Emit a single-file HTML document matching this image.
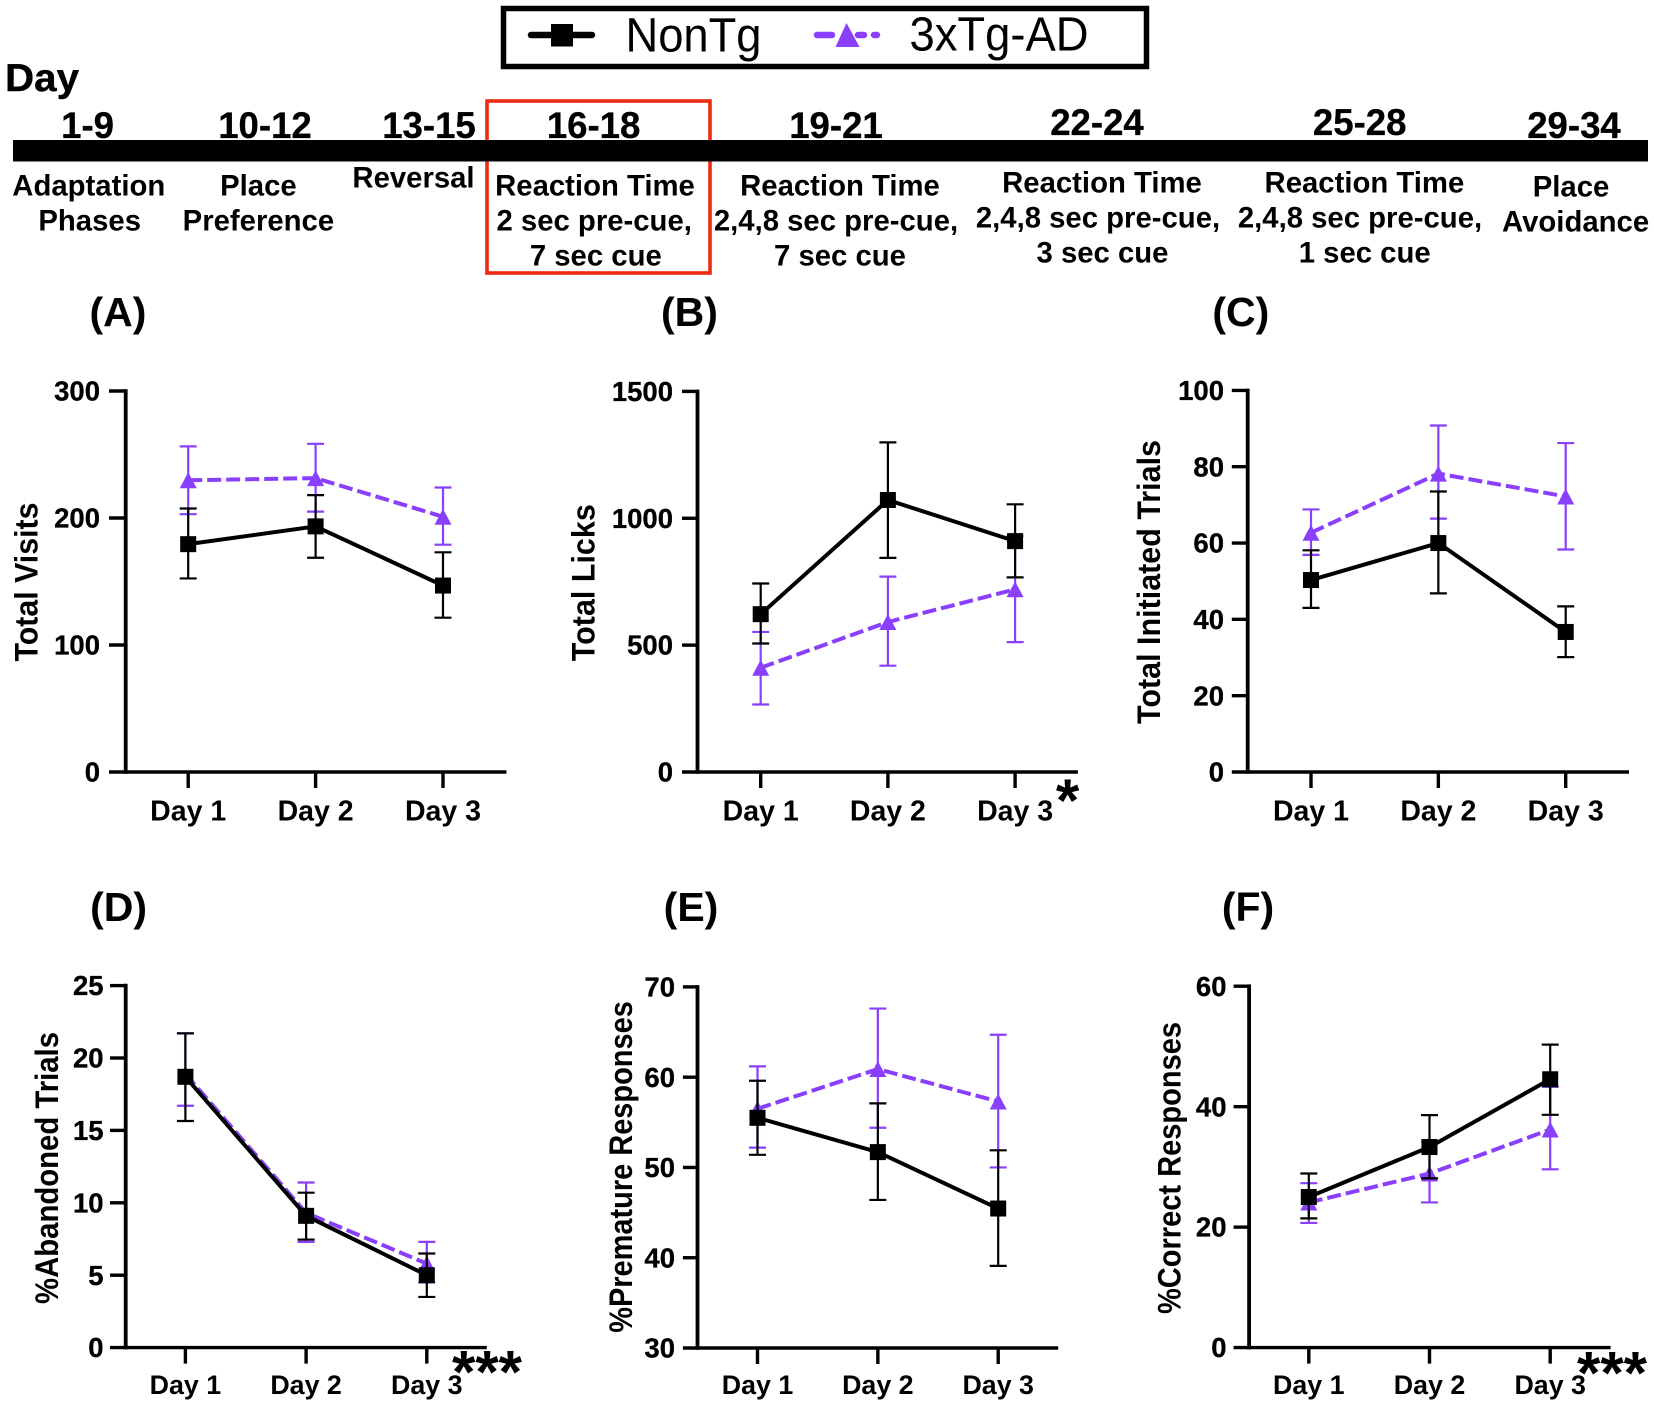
<!DOCTYPE html>
<html lang="en">
<head>
<meta charset="utf-8">
<title>Reaction time task results</title>
<style>
html,body{margin:0;padding:0;background:#fff;}
svg{display:block;font-family:"Liberation Sans",Arial,sans-serif;}
</style>
</head>
<body>
<svg id="figure" xmlns="http://www.w3.org/2000/svg" width="1654" height="1406" viewBox="0 0 1654 1406">
  <rect x="0" y="0" width="1654" height="1406" fill="#fff"/>

  <g>
    <rect x="503.5" y="8.5" width="643" height="58" fill="#fff" stroke="#000" stroke-width="5.5"/>
    <g>
      <line x1="531" y1="35" x2="592" y2="35" stroke="#000" stroke-width="6.5" stroke-linecap="round"/>
      <rect x="551" y="24" width="22" height="22.5" fill="#000"/>
      <text x="625.5" y="51.5" font-size="48" textLength="136" lengthAdjust="spacingAndGlyphs" fill="#000">NonTg</text>
    </g>
    <g>
      <line x1="817" y1="35" x2="832" y2="35" stroke="#8a3ffc" stroke-width="6.5" stroke-linecap="round"/>
      <line x1="858" y1="35" x2="864" y2="35" stroke="#8a3ffc" stroke-width="6.5" stroke-linecap="round"/>
      <line x1="874" y1="35" x2="877" y2="35" stroke="#8a3ffc" stroke-width="6.5" stroke-linecap="round"/>
      <polygon points="846.5,23 835.5,47 859.6,47" fill="#8a3ffc"/>
      <text x="909.5" y="50.5" font-size="48" textLength="179" lengthAdjust="spacingAndGlyphs" fill="#000">3xTg-AD</text>
    </g>
  </g>

  <g font-weight="700" fill="#000" text-anchor="middle">
    <text x="5" y="91" font-size="39" text-anchor="start" textLength="74" lengthAdjust="spacingAndGlyphs" stroke="#000" stroke-width="0.4">Day</text>
    <rect x="487" y="101" width="223" height="172" fill="none" stroke="#ee2a12" stroke-width="3.6"/>
    <rect x="13" y="140" width="1635" height="21.5" fill="#000"/>

    <g font-size="36.6" stroke="#000" stroke-width="0.3">
      <text x="87.6" y="138">1-9</text>
      <text x="265" y="138">10-12</text>
      <text x="429" y="138">13-15</text>
      <text x="593.6" y="138">16-18</text>
      <text x="836" y="138">19-21</text>
      <text x="1097" y="135">22-24</text>
      <text x="1359.7" y="135">25-28</text>
      <text x="1574" y="138">29-34</text>
    </g>

    <g font-size="29.3">
      <text x="88.8" y="195.7">Adaptation</text>
      <text x="89.7" y="230.7">Phases</text>
      <text x="258.4" y="195.7">Place</text>
      <text x="258.4" y="230.7">Preference</text>
      <text x="413.5" y="187.3">Reversal</text>

      <text x="595" y="195.7">Reaction Time</text>
      <text x="594.2" y="230.7">2 sec pre-cue,</text>
      <text x="595.8" y="265.7">7 sec cue</text>

      <text x="840" y="195.7">Reaction Time</text>
      <text x="836" y="230.7">2,4,8 sec pre-cue,</text>
      <text x="840" y="265.7">7 sec cue</text>

      <text x="1102" y="192.3">Reaction Time</text>
      <text x="1098" y="227.3">2,4,8 sec pre-cue,</text>
      <text x="1102.5" y="262.3">3 sec cue</text>

      <text x="1364.4" y="192.3">Reaction Time</text>
      <text x="1360" y="227.3">2,4,8 sec pre-cue,</text>
      <text x="1364.7" y="262.3">1 sec cue</text>

      <text x="1571" y="196.7">Place</text>
      <text x="1575.6" y="231.7">Avoidance</text>
    </g>
  </g>

  <g id="charts"></g>
</svg>

<script>
const categories = ['Day 1', 'Day 2', 'Day 3'];

const aTickLabels = ['0', '100', '200', '300'];
const aNonTgMean = [179.4, 193.4, 146.8];
const aNonTgUpper = [207.5, 218, 173];
const aNonTgLower = [152.4, 168.7, 121.5];
const a3xMean = [229.7, 231.4, 201];
const a3xUpper = [256.4, 258.4, 224];
const a3xLower = [203, 205, 179];

const bTickLabels = ['0', '500', '1000', '1500'];
const bNonTgMean = [622, 1072, 910];
const bNonTgUpper = [743, 1299, 1055];
const bNonTgLower = [506.5, 844, 767];
const b3xMean = [411, 591, 720];
const b3xUpper = [552, 770, 930];
const b3xLower = [266, 419, 512];

const cTickLabels = ['0', '20', '40', '60', '80', '100'];
const cNonTgMean = [50.3, 60, 36.7];
const cNonTgUpper = [58.1, 73.5, 43.4];
const cNonTgLower = [43, 46.8, 30.1];
const c3xMean = [62.7, 78.2, 72.2];
const c3xUpper = [68.8, 90.8, 86.2];
const c3xLower = [56.9, 66.4, 58.3];

const dTickLabels = ['0', '5', '10', '15', '20', '25'];
const dNonTgMean = [18.7, 9.1, 5.0];
const dNonTgUpper = [21.7, 10.7, 6.5];
const dNonTgLower = [15.65, 7.46, 3.5];
const d3xMean = [18.9, 9.3, 5.8];
const d3xUpper = [21.7, 11.4, 7.3];
const d3xLower = [16.7, 7.3, 4.5];

const eTickLabels = ['30', '40', '50', '60', '70'];
const eNonTgMean = [55.5, 51.7, 45.45];
const eNonTgUpper = [59.6, 57.1, 51.9];
const eNonTgLower = [51.4, 46.4, 39.1];
const e3xMean = [56.5, 60.9, 57.3];
const e3xUpper = [61.2, 67.6, 64.7];
const e3xLower = [52.2, 54.4, 50];

const fTickLabels = ['0', '20', '40', '60'];
const fNonTgMean = [25, 33.3, 44.55];
const fNonTgUpper = [28.9, 38.6, 50.3];
const fNonTgLower = [21.45, 28.1, 38.65];
const f3xMean = [24.1, 28.9, 36.2];
const f3xUpper = [27.3, 34.2, 43.3];
const f3xLower = [20.7, 24.1, 29.6];

const PURPLE = '#8a3ffc';
const SVG_NS = 'http://www.w3.org/2000/svg';

const panels = [
  { key: 'a', letter: '(A)', title: 'Total Visits', ticks: aTickLabels,
    non: [aNonTgMean, aNonTgUpper, aNonTgLower], tg: [a3xMean, a3xUpper, a3xLower],
    axisX: 125.7, top: 391, bottom: 772, tickLeft: 109, right: 506.4, firstX: 188.2, stepX: 127.4,
    tickLabelEnd: 100, catSize: 28.5, catBaseline: 820.3,
    letterX: 118, letterY: 326, titleX: 37.5, titleY: 582, titleLen: 159, stars: null },
  { key: 'b', letter: '(B)', title: 'Total Licks', ticks: bTickLabels,
    non: [bNonTgMean, bNonTgUpper, bNonTgLower], tg: [b3xMean, b3xUpper, b3xLower],
    axisX: 697.5, top: 391.4, bottom: 772, tickLeft: 682, right: 1077.9, firstX: 760.7, stepX: 127.2,
    tickLabelEnd: 673, catSize: 28.5, catBaseline: 820.3,
    letterX: 689.5, letterY: 326, titleX: 594.6, titleY: 582.7, titleLen: 157,
    stars: { text: '*', x: 1067.5, y: 821 } },
  { key: 'c', letter: '(C)', title: 'Total Initiated Trials', ticks: cTickLabels,
    non: [cNonTgMean, cNonTgUpper, cNonTgLower], tg: [c3xMean, c3xUpper, c3xLower],
    axisX: 1247.7, top: 390.4, bottom: 772, tickLeft: 1231.8, right: 1629, firstX: 1311, stepX: 127.35,
    tickLabelEnd: 1224, catSize: 28.5, catBaseline: 820.3,
    letterX: 1240.8, letterY: 326, titleX: 1160, titleY: 582, titleLen: 284, stars: null },
  { key: 'd', letter: '(D)', title: '%Abandoned Trials', ticks: dTickLabels,
    non: [dNonTgMean, dNonTgUpper, dNonTgLower], tg: [d3xMean, d3xUpper, d3xLower],
    axisX: 125.7, top: 985.6, bottom: 1347.6, tickLeft: 110, right: 486.8, firstX: 185.4, stepX: 120.7,
    tickLabelEnd: 103.6, catSize: 26.8, catBaseline: 1394,
    letterX: 118.6, letterY: 921, titleX: 57.9, titleY: 1168, titleLen: 272,
    stars: { text: '***', x: 487, y: 1392.5 } },
  { key: 'e', letter: '(E)', title: '%Premature Responses', ticks: eTickLabels,
    non: [eNonTgMean, eNonTgUpper, eNonTgLower], tg: [e3xMean, e3xUpper, e3xLower],
    axisX: 697.5, top: 986.9, bottom: 1348, tickLeft: 682.9, right: 1058.2, firstX: 757.5, stepX: 120.35,
    tickLabelEnd: 675, catSize: 26.8, catBaseline: 1394,
    letterX: 691, letterY: 921, titleX: 632, titleY: 1167, titleLen: 331.6, stars: null },
  { key: 'f', letter: '(F)', title: '%Correct Responses', ticks: fTickLabels,
    non: [fNonTgMean, fNonTgUpper, fNonTgLower], tg: [f3xMean, f3xUpper, f3xLower],
    axisX: 1249.1, top: 986.2, bottom: 1347.6, tickLeft: 1233.6, right: 1610.6, firstX: 1308.8, stepX: 120.7,
    tickLabelEnd: 1226.5, catSize: 26.8, catBaseline: 1394,
    letterX: 1248, letterY: 921, titleX: 1180.6, titleY: 1168, titleLen: 292,
    stars: { text: '***', x: 1612, y: 1393.5 } }
];

function mk(tag, parent, attrs, text) {
  const el = document.createElementNS(SVG_NS, tag);
  for (const k in attrs) el.setAttribute(k, attrs[k]);
  if (text !== undefined) el.textContent = text;
  parent.appendChild(el);
  return el;
}

function drawSeries(group, p, series, seriesName, color, xScale, yScale) {
  const mean = series[0], upper = series[1], lower = series[2];
  const g = mk('g', group, {});
  
  

  mean.forEach(function (v, i) {
    const x = xScale(i);
    const stem = mk('line', g, { x1: x, x2: x, y1: yScale(upper[i]), y2: yScale(lower[i]), stroke: color, 'stroke-width': 2.2 });
    
    
    const capU = mk('line', g, { x1: x - 8.5, x2: x + 8.5, y1: yScale(upper[i]), y2: yScale(upper[i]), stroke: color, 'stroke-width': 2.2 });
    
    
    const capL = mk('line', g, { x1: x - 8.5, x2: x + 8.5, y1: yScale(lower[i]), y2: yScale(lower[i]), stroke: color, 'stroke-width': 2.2 });
    
    
  });

  const pts = mean.map(function (v, i) { return xScale(i) + ',' + yScale(v); }).join(' ');
  const lineAttrs = { points: pts, fill: 'none', stroke: color, 'stroke-width': 4 };
  if (seriesName !== 'nontg') lineAttrs['stroke-dasharray'] = '14 5';
  const line = mk('polyline', g, lineAttrs);
  
  

  mean.forEach(function (v, i) {
    const x = xScale(i), y = yScale(v);
    let marker;
    if (seriesName === 'nontg') {
      marker = mk('rect', g, { x: x - 8, y: y - 8, width: 16, height: 16, fill: color });
    } else {
      marker = mk('polygon', g, { points: x + ',' + (y - 8) + ' ' + (x - 8.5) + ',' + (y + 8) + ' ' + (x + 8.5) + ',' + (y + 8), fill: color });
    }
    
    
  });
}

function drawPanel(p) {
  const root = document.getElementById('charts');
  const g = mk('g', root, {});
  
  

  const tickValues = p.ticks.map(Number);
  const yMin = tickValues[0];
  const yMax = tickValues[tickValues.length - 1];
  const yScale = function (v) { return p.bottom - (v - yMin) / (yMax - yMin) * (p.bottom - p.top); };
  const xScale = function (i) { return p.firstX + i * p.stepX; };

  const letter = mk('text', g, { x: p.letterX, y: p.letterY, 'font-size': 41, 'font-weight': 700, 'text-anchor': 'middle', fill: '#000' }, p.letter);
  
  

  const title = mk('text', g, {
    transform: 'translate(' + p.titleX + ',' + p.titleY + ') rotate(-90)',
    'font-size': 32, 'font-weight': 700, 'text-anchor': 'middle', fill: '#000',
    textLength: p.titleLen, lengthAdjust: 'spacingAndGlyphs'
  }, p.title);
  
  

  const yAxis = mk('line', g, { x1: p.axisX, x2: p.axisX, y1: p.top - 1.8, y2: p.bottom + 1.8, stroke: '#000', 'stroke-width': 3.8 });
  
  

  const xAxis = mk('line', g, { x1: p.tickLeft, x2: p.right, y1: p.bottom, y2: p.bottom, stroke: '#000', 'stroke-width': 3.4 });
  
  

  p.ticks.forEach(function (label, i) {
    const y = yScale(tickValues[i]);
    if (i > 0) {
      const t = mk('line', g, { x1: p.tickLeft, x2: p.axisX, y1: y, y2: y, stroke: '#000', 'stroke-width': 3.4 });
      
      
    }
    const tl = mk('text', g, { x: p.tickLabelEnd, y: y + 9.6, 'font-size': 27.5, 'font-weight': 700, 'text-anchor': 'end', fill: '#000', stroke: '#000', 'stroke-width': 0.3 }, label);
    
    
  });

  categories.forEach(function (cat, i) {
    const x = xScale(i);
    const t = mk('line', g, { x1: x, x2: x, y1: p.bottom, y2: p.bottom + 16, stroke: '#000', 'stroke-width': 3.4 });
    
    
    const tl = mk('text', g, { x: x, y: p.catBaseline, 'font-size': p.catSize, 'font-weight': 700, 'text-anchor': 'middle', fill: '#000' }, cat);
    
    
  });

  drawSeries(g, p, p.tg, '3xtg-ad', PURPLE, xScale, yScale);
  drawSeries(g, p, p.non, 'nontg', '#000', xScale, yScale);

  if (p.stars) {
    const s = mk('text', g, { x: p.stars.x, y: p.stars.y, 'font-size': 60, 'font-weight': 700, 'text-anchor': 'middle', fill: '#000' }, p.stars.text);
    
    
  }
}

panels.forEach(drawPanel);
</script>
</body>
</html>
